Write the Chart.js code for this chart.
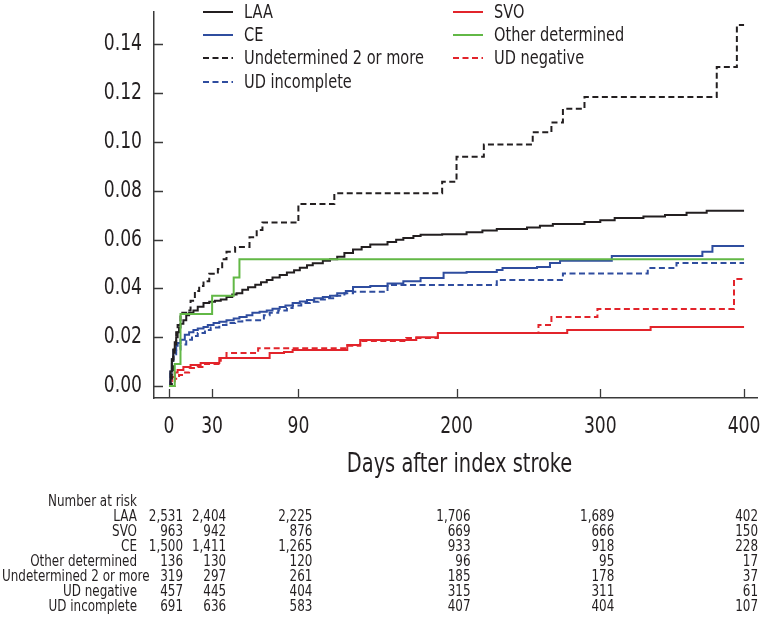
<!DOCTYPE html>
<html>
<head>
<meta charset="utf-8">
<script src="https://cdn.jsdelivr.net/npm/chart.js@4.4.1/dist/chart.umd.min.js"></script>
<style>
html, body { margin: 0; padding: 0; background: #fff; }
#wrap { width: 765px; height: 627px; }
</style>
</head>
<body>
<div id="wrap"><canvas id="km" width="765" height="627"></canvas></div>
<script>
var FONT = '"Liberation Sans Narrow", "DejaVu Sans Condensed", "Arial Narrow", sans-serif';
var SQUEEZE = 0.83; // the original type is a condensed face, narrower than what is installed
var BLACK = '#231f20', BLUE = '#2f4d9f', RED = '#e2242b', GREEN = '#62b846';

// axis ticks
var xTicks = [0, 30, 90, 200, 300, 400];
var yTicks = [0, 0.02, 0.04, 0.06, 0.08, 0.10, 0.12, 0.14];
var xTitle = 'Days after index stroke';

// cumulative incidence (day of step, value after step)
var laaDays = [0,1,2,3,4,5,6,7,8,10,12,14,17,20,24,28,32,36,40,44,47,51,55,60,64,68,72,77,82,87,91,96,100,107,112,117,122,128,134,140,152,158,163,170,175,190,207,218,228,249,258,267,289,300,310,330,345,360,374,400];
var laaRisk = [0,.006,.011,.015,.018,.020,.022,.024,.0255,.027,.029,.030,.031,.0325,.034,.0345,.035,.0355,.0365,.0375,.038,.0395,.0405,.0415,.0425,.0435,.0445,.0455,.0465,.0475,.0485,.0495,.0503,.0513,.052,.053,.0545,.056,.057,.058,.059,.060,.0607,.0615,.062,.0622,.063,.0638,.0644,.065,.0657,.0664,.0672,.068,.0689,.0695,.0701,.071,.0718,.0718];

var svoDays = [0,1,2,4,6,10,15,22,35,70,80,86,124,133,172,187,277,335,400];
var svoRisk = [0,.002,.0037,.0055,.0066,.0078,.0086,.0094,.0115,.0135,.014,.0148,.0168,.0189,.020,.0217,.023,.0242,.0242];

var ceDays = [0,1,2,3,5,6,8,11,14,17,20,24,27,31,35,40,45,49,54,58,63,68,72,77,81,86,91,96,101,107,112,117,123,128,140,152,163,175,191,207,228,232,256,265,272,308,371,378,400];
var ceRisk = [0,.006,.011,.0148,.0165,.0176,.019,.021,.022,.023,.0236,.0242,.025,.0258,.0263,.027,.0277,.0283,.029,.030,.0305,.031,.0317,.0324,.033,.034,.0347,.0353,.036,.0365,.037,.038,.039,.0406,.041,.042,.043,.0443,.0464,.0467,.0476,.0484,.0488,.0504,.0513,.0533,.055,.0574,.0574];

var odDays = [0,4,8,30,45,49,400];
var odRisk = [0,.009,.0295,.037,.0445,.052,.052];

var u2Days = [0,2,3,4,5,6,8,12,15,18,21,24,28,34,37,40,46,56,61,65,90,115,190,200,219,253,266,274,289,381,395,400];
var u2Risk = [0,.006,.012,.017,.022,.025,.030,.031,.035,.039,.041,.043,.046,.048,.052,.055,.057,.061,.064,.067,.0746,.079,.0837,.094,.099,.104,.108,.1136,.1185,.1308,.148,.148];

var unDays = [0,3,4,7,10,14,20,24,36,40,62,124,133,165,187,257,266,298,393,400];
var unRisk = [0,0,.003,.0045,.0055,.0074,.0078,.009,.0115,.0135,.0155,.0165,.0185,.0197,.0217,.025,.0283,.0316,.0439,.0439];

var uiDays = [0,1,2,3,5,8,12,16,20,25,29,35,40,46,51,66,70,76,82,86,92,98,104,110,116,122,128,152,228,274,333,353,400];
var uiRisk = [0,.005,.009,.013,.015,.017,.019,.0205,.0217,.023,.024,.025,.0258,.0265,.027,.029,.030,.031,.032,.033,.034,.0345,.0355,.036,.037,.038,.0386,.0414,.0435,.0461,.0484,.0504,.0504];

// number at risk table
var riskDays = [0, 30, 90, 200, 300, 400];
var groupNames = ['LAA', 'SVO', 'CE', 'Other determined', 'Undetermined 2 or more', 'UD negative', 'UD incomplete'];
var atRiskLAA = [2531, 2404, 2225, 1706, 1689, 402];
var atRiskSVO = [963, 942, 876, 669, 666, 150];
var atRiskCE = [1500, 1411, 1265, 933, 918, 228];
var atRiskOD = [136, 130, 120, 96, 95, 17];
var atRiskU2 = [319, 297, 261, 185, 178, 37];
var atRiskUN = [457, 445, 404, 315, 311, 61];
var atRiskUI = [691, 636, 583, 407, 404, 107];
var atRiskRows = [atRiskLAA, atRiskSVO, atRiskCE, atRiskOD, atRiskU2, atRiskUN, atRiskUI];

function steps(days, vals) {
    return days.map(function (d, i) { return {x: d, y: vals[i]}; });
}

function curve(label, days, vals, color, dashed) {
    return {
        label: label,
        data: steps(days, vals),
        borderColor: color,
        backgroundColor: color,
        borderWidth: 2,
        borderDash: dashed ? [6, 3.5] : [],
        stepped: true,
        pointRadius: 0,
        fill: false
    };
}

// horizontally condensed text
function text(ctx, str, x, y, align, size) {
    ctx.save();
    ctx.font = size + 'px ' + FONT;
    ctx.textAlign = align;
    ctx.textBaseline = 'middle';
    ctx.fillStyle = BLACK;
    ctx.translate(x, y);
    ctx.scale(SQUEEZE, 1);
    ctx.fillText(str, 0, 0);
    ctx.restore();
}

function textWidth(ctx, str, size) {
    ctx.save();
    ctx.font = size + 'px ' + FONT;
    var w = ctx.measureText(str).width * SQUEEZE;
    ctx.restore();
    return w;
}

// legend placed inside the plot, two columns
var legendItems = [
    {text: 'LAA', color: BLACK, dash: false, x: 203, y: 12},
    {text: 'CE', color: BLUE, dash: false, x: 203, y: 35},
    {text: 'Undetermined 2 or more', color: BLACK, dash: true, x: 203, y: 58},
    {text: 'UD incomplete', color: BLUE, dash: true, x: 203, y: 82},
    {text: 'SVO', color: RED, dash: false, x: 453, y: 12},
    {text: 'Other determined', color: GREEN, dash: false, x: 453, y: 35},
    {text: 'UD negative', color: RED, dash: true, x: 453, y: 58}
];

var kmDecor = {
    id: 'kmDecor',
    afterDraw: function (chart) {
        var ctx = chart.ctx;
        var xs = chart.scales.x, ys = chart.scales.y;
        var area = chart.chartArea;
        ctx.save();
        // inward tick marks
        ctx.strokeStyle = '#3a3a3a';
        ctx.lineWidth = 1.3;
        ctx.setLineDash([]);
        ctx.beginPath();
        xTicks.forEach(function (v) {
            var px = Math.round(xs.getPixelForValue(v)) + 0.5;
            ctx.moveTo(px, area.bottom);
            ctx.lineTo(px, area.bottom - 9);
        });
        yTicks.forEach(function (v) {
            var py = Math.round(ys.getPixelForValue(v)) + 0.5;
            ctx.moveTo(area.left, py);
            ctx.lineTo(area.left + 9, py);
        });
        ctx.stroke();
        ctx.restore();

        // tick labels and axis title
        yTicks.forEach(function (v) {
            text(ctx, v.toFixed(2), area.left - 12, ys.getPixelForValue(v), 'right', 23);
        });
        xTicks.forEach(function (v) {
            text(ctx, String(v), xs.getPixelForValue(v), area.bottom + 29, 'center', 23);
        });
        text(ctx, xTitle, (area.left + area.right) / 2 + 4, area.bottom + 67, 'center', 26);

        // legend
        legendItems.forEach(function (it) {
            ctx.save();
            ctx.strokeStyle = it.color;
            ctx.lineWidth = 2;
            ctx.setLineDash(it.dash ? [6, 3.5] : []);
            ctx.beginPath();
            ctx.moveTo(it.x, it.y);
            ctx.lineTo(it.x + 30, it.y);
            ctx.stroke();
            ctx.restore();
            text(ctx, it.text, it.x + 41, it.y + 1, 'left', 19.5);
        });

        // number at risk; a label too long for the column starts at the left edge
        var top = 502, rowH = 15, labelRight = 137, fs = 16;
        text(ctx, 'Number at risk', labelRight, top, 'right', fs);
        groupNames.forEach(function (name, r) {
            var y = top + rowH * (r + 1);
            if (labelRight - textWidth(ctx, name, fs) < 2) {
                text(ctx, name, 2, y, 'left', fs);
            } else {
                text(ctx, name, labelRight, y, 'right', fs);
            }
            atRiskRows[r].forEach(function (n, c) {
                text(ctx, n.toLocaleString('en-US'), xs.getPixelForValue(riskDays[c]) + 14, y, 'right', fs);
            });
        });
    }
};

var ctx = document.getElementById('km').getContext('2d');
new Chart(ctx, {
    type: 'line',
    data: {
        datasets: [
            curve('Other determined', odDays, odRisk, GREEN, false),
            curve('LAA', laaDays, laaRisk, BLACK, false),
            curve('Undetermined 2 or more', u2Days, u2Risk, BLACK, true),
            curve('CE', ceDays, ceRisk, BLUE, false),
            curve('UD incomplete', uiDays, uiRisk, BLUE, true),
            curve('SVO', svoDays, svoRisk, RED, false),
            curve('UD negative', unDays, unRisk, RED, true)
        ]
    },
    options: {
        responsive: false,
        animation: false,
        devicePixelRatio: 1,
        layout: {padding: {left: 0, right: 8, top: 12, bottom: 147}},
        plugins: {legend: {display: false}, tooltip: {enabled: false}},
        scales: {
            x: {
                type: 'linear',
                min: -10.43,
                max: 409,
                afterBuildTicks: function (s) { s.ticks = xTicks.map(function (v) { return {value: v}; }); },
                afterFit: function (s) { s.height = 82; s.paddingLeft = 0; s.paddingRight = 0; },
                grid: {display: true, drawOnChartArea: false, drawTicks: false},
                border: {display: true, color: '#3a3a3a', width: 1.5},
                ticks: {display: false}
            },
            y: {
                min: -0.0049,
                max: 0.1533,
                afterBuildTicks: function (s) { s.ticks = yTicks.map(function (v) { return {value: v}; }); },
                afterFit: function (s) { s.width = 154; s.paddingTop = 0; s.paddingBottom = 0; },
                grid: {display: true, drawOnChartArea: false, drawTicks: false},
                border: {display: true, color: '#3a3a3a', width: 1.5},
                ticks: {display: false}
            }
        }
    },
    plugins: [kmDecor]
});
</script>
</body>
</html>
